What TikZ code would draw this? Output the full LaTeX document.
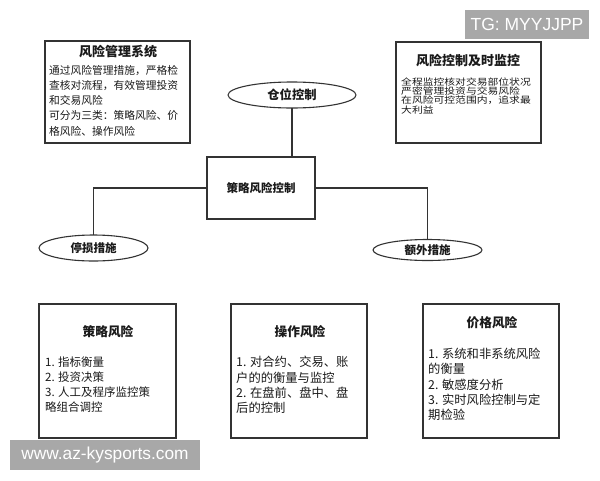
\documentclass[tikz,border=0pt]{standalone}
\usepackage{fontspec}
\usetikzlibrary{shapes.geometric}
\newfontfamily\cjk{Noto Sans CJK SC}
\newfontfamily\cjkw[FakeStretch=1.2]{Noto Sans CJK SC}
\newfontfamily\wmfont{Liberation Sans}
\definecolor{linec}{HTML}{333333}
\definecolor{textc}{HTML}{1A1A1A}
\definecolor{wmgray}{HTML}{A8A8A8}
\tikzset{
  box/.style={draw=linec,line width=1.2pt,inner sep=0pt,outer sep=0pt,fill=white},
  oval/.style={ellipse,draw=linec,line width=1.1pt,inner sep=0pt,outer sep=0pt,fill=white,text=textc},
  conn/.style={draw=linec,line width=1.2pt},
  ttl/.style={inner sep=0pt,text=textc},
  txt/.style={inner sep=0pt,anchor=base west,text=textc},
  wm/.style={fill=wmgray,text=white,inner sep=0pt,font=\wmfont}
}
\begin{document}
\begin{tikzpicture}[x=1pt,y=-1pt]
\path[fill=white] (0,0) rectangle (600,480);
\useasboundingbox (0,0) rectangle (600,480);

% boxes
\node[box,minimum width=145pt,minimum height=102pt] (sys) at (117.5,92) {};
\node[box,minimum width=145pt,minimum height=101pt] (mon) at (468.5,92.5) {};
\node[box,minimum width=108pt,minimum height=62pt,font=\cjk\bfseries\fontsize{11.5}{13}\selectfont,text=textc] (ctr) at (261,188) {策略风险控制};
\node[box,minimum width=137pt,minimum height=134pt] (b1) at (107.5,371) {};
\node[box,minimum width=136pt,minimum height=134pt] (b2) at (299,371) {};
\node[box,minimum width=136pt,minimum height=134pt] (b3) at (491,371) {};

% ellipses
\node[oval,minimum width=128pt,minimum height=26pt,font=\cjk\bfseries\fontsize{12.3}{14}\selectfont] (cw) at (292,95) {仓位控制};
\node[oval,minimum width=109pt,minimum height=26pt,font=\cjk\bfseries\fontsize{11.5}{13}\selectfont] (ts) at (93.5,248) {停损措施};
\node[oval,minimum width=109pt,minimum height=21pt,font=\cjk\bfseries\fontsize{11.5}{13}\selectfont] (ew) at (427.5,250) {额外措施};

% connectors
\draw[conn] (cw.south) -- (cw.south |- ctr.north);
\draw[conn] (ctr.west) -| (ts.north);
\draw[conn] (ctr.east) -| (ew.north);

% titles
\node[ttl,font=\cjk\bfseries\fontsize{13}{15}\selectfont] (systtl) at (118,52) {风险管理系统};
\node[ttl,font=\cjk\bfseries\fontsize{13}{15}\selectfont] (monttl) at (468,61) {风险控制及时监控};
\node[ttl,font=\cjk\bfseries\fontsize{12.7}{15}\selectfont] (b1ttl) at (108,332) {策略风险};
\node[ttl,font=\cjk\bfseries\fontsize{12.7}{15}\selectfont] (b2ttl) at (300,332) {操作风险};
\node[ttl,font=\cjk\bfseries\fontsize{12.7}{15}\selectfont] (b3ttl) at (492,323) {价格风险};

% body lines
\foreach \t [count=\i] in {通过风险管理措施，严格检,查核对流程，有效管理投资,和交易风险,可分为三类：策略风险、价,格风险、操作风险}
  \node[txt,font=\cjk\fontsize{10.75}{12}\selectfont] (sysl\i) at (49,{74+15.3*(\i-1)}) {\t};
\foreach \t [count=\i] in {全程监控核对交易部位状况,严密管理投资与交易风险,在风险可控范围内，追求最,大利益}
  \node[txt,font=\cjkw\fontsize{9}{10}\selectfont] (monl\i) at (401,{85.5+9.2*(\i-1)}) {\t};
\foreach \t [count=\i] in {1. 指标衡量,2. 投资决策,3. 人工及程序监控策,略组合调控}
  \node[txt,font=\cjk\fontsize{11.5}{13}\selectfont] (b1l\i) at (45,{366.4+15*(\i-1)}) {\t};
\foreach \t [count=\i] in {1. 对合约、交易、账,户的的衡量与监控,2. 在盘前、盘中、盘,后的控制}
  \node[txt,font=\cjk\fontsize{12.3}{14}\selectfont] (b2l\i) at (236,{366.7+15.3*(\i-1)}) {\t};
\foreach \t [count=\i] in {1. 系统和非系统风险,的衡量,2. 敏感度分析,3. 实时风险控制与定,期检验}
  \node[txt,font=\cjk\fontsize{12.3}{14}\selectfont] (b3l\i) at (428,{358.7+15.2*(\i-1)}) {\t};

% watermark labels
\node[wm,minimum width=124pt,minimum height=29pt,font=\wmfont\fontsize{17.5}{20}\selectfont] (tg) at (527,24.5) {TG: MYYJJPP};
\node[wm,minimum width=190pt,minimum height=30pt,font=\wmfont\fontsize{17.3}{20}\selectfont] (www) at (105,455) {www.az-kysports.com};
\end{tikzpicture}
\end{document}
